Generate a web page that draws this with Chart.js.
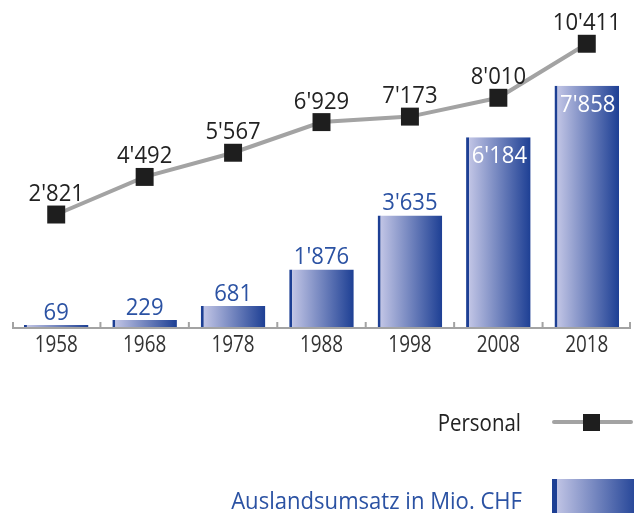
<!DOCTYPE html>
<html>
<head>
<meta charset="utf-8">
<script src="https://cdn.jsdelivr.net/npm/chart.js@4"></script>
<style>
  html, body { margin: 0; padding: 0; background: #fff; }
  #wrap { width: 634px; height: 513px; }
</style>
</head>
<body>
<div id="wrap"><canvas id="myChart" width="634" height="513"></canvas></div>
<script>
// data
var years = ["1958", "1968", "1978", "1988", "1998", "2008", "2018"];
var umsatz = [69, 229, 681, 1876, 3635, 6184, 7858];      // Auslandsumsatz in Mio. CHF
var personal = [2821, 4492, 5567, 6929, 7173, 8010, 10411];
var labelInside = [false, false, false, false, false, true, true];

var FONT = "23px 'Open Sans', 'Noto Sans', sans-serif";
var BLUE_TXT = "#2b52a3";
var DARK = "#1d3f94";
var LIGHT = "#c9cbe9";
var GRAY = "#a3a3a3";
var BAR_PCT = 0.73;

function fmt(v) {
  return String(v).replace(/\B(?=(\d{3})+(?!\d))/g, "'");
}

function barGradient(ctx, x0, x1) {
  var g = ctx.createLinearGradient(x0, 0, x1, 0);
  g.addColorStop(0, LIGHT);
  g.addColorStop(1, DARK);
  return g;
}

// text is a bit condensed in the original, squeeze it horizontally
function txt(ctx, s, x, y, align, sx) {
  ctx.save();
  ctx.translate(x, y);
  ctx.scale(sx, 1);
  ctx.textAlign = align;
  ctx.textBaseline = "alphabetic";
  ctx.fillText(s, 0, 0);
  ctx.restore();
}

var decor = {
  id: 'decor',
  beforeDatasetsDraw: function(chart) {
    var ctx = chart.ctx, xs = chart.scales.x, y = chart.chartArea.bottom + 1;
    ctx.save();
    ctx.strokeStyle = GRAY;
    ctx.lineWidth = 2;
    ctx.beginPath();
    ctx.moveTo(xs.left, y);
    ctx.lineTo(xs.right, y);
    var n = years.length;
    for (var i = 0; i <= n; i++) {
      var x = xs.left + i * xs.width / n;
      if (i === 0) x += 1;
      if (i === n) x -= 1;
      ctx.moveTo(x, y);
      ctx.lineTo(x, y - 6);
    }
    ctx.stroke();

    // category labels
    ctx.font = FONT;
    ctx.fillStyle = "#333";
    years.forEach(function(lab, i) {
      txt(ctx, lab, xs.getPixelForValue(i), y + 24, "center", 0.82);
    });
    ctx.restore();
  },
  afterDatasetsDraw: function(chart) {
    var ctx = chart.ctx;
    ctx.save();
    ctx.font = FONT;
    chart.getDatasetMeta(1).data.forEach(function(el, i) {
      if (labelInside[i]) {
        ctx.fillStyle = "#ffffff";
        txt(ctx, fmt(umsatz[i]), el.x + 1, el.y + 26, "center", 0.96);
      } else {
        ctx.fillStyle = BLUE_TXT;
        txt(ctx, fmt(umsatz[i]), el.x, el.y - 5, "center", 0.96);
      }
    });
    ctx.fillStyle = "#222";
    chart.getDatasetMeta(0).data.forEach(function(el, i) {
      txt(ctx, fmt(personal[i]), el.x, el.y - 13.5, "center", 0.96);
    });

    // legend
    ctx.fillStyle = "#222";
    txt(ctx, "Personal", 521, 431, "right", 0.89);
    ctx.fillStyle = BLUE_TXT;
    txt(ctx, "Auslandsumsatz in Mio. CHF", 522, 509, "right", 0.96);

    ctx.strokeStyle = GRAY;
    ctx.lineWidth = 4;
    ctx.lineCap = "round";
    ctx.beginPath();
    ctx.moveTo(554, 422);
    ctx.lineTo(631, 422);
    ctx.stroke();
    ctx.fillStyle = "#1e1e1e";
    ctx.fillRect(583, 414, 17, 17);

    ctx.fillStyle = barGradient(ctx, 552, 640);
    ctx.fillRect(552, 479, 82, 34);
    ctx.fillStyle = DARK;
    ctx.fillRect(552, 479, 5, 34);
    ctx.restore();
  }
};

var ctx = document.getElementById("myChart");

var myChart = new Chart(ctx, {
  data: {
    labels: years,
    datasets: [{
      type: 'line',
      label: 'Personal',
      data: personal,
      yAxisID: 'y2',
      order: 0,
      borderColor: GRAY,
      borderWidth: 4,
      tension: 0,
      clip: false,
      pointStyle: 'rect',
      pointRadius: 12.7,
      pointBorderWidth: 0,
      pointBackgroundColor: "#1e1e1e",
      pointBorderColor: "#1e1e1e"
    }, {
      type: 'bar',
      label: 'Auslandsumsatz in Mio. CHF',
      data: umsatz,
      yAxisID: 'y',
      order: 1,
      barPercentage: BAR_PCT,
      categoryPercentage: 1,
      borderSkipped: false,
      borderWidth: { left: 3, top: 0, right: 0, bottom: 0 },
      borderColor: DARK,
      backgroundColor: function(c) {
        var ch = c.chart, xs = ch.scales.x;
        if (c.dataIndex === undefined || !xs || !ch.chartArea) return DARK;
        var cx = xs.getPixelForValue(c.dataIndex);
        var w = xs.width / years.length * BAR_PCT;
        return barGradient(ch.ctx, cx - w / 2, cx + w / 2);
      }
    }]
  },
  options: {
    responsive: false,
    animation: false,
    layout: { autoPadding: false, padding: { left: 12, right: 3, top: 0, bottom: 0 } },
    plugins: {
      legend: { display: false },
      tooltip: { enabled: false }
    },
    scales: {
      x: {
        offset: true,
        grid: { display: false, drawTicks: false },
        border: { display: false },
        ticks: { display: false },
        afterFit: function(scale) { scale.height = 186; }
      },
      y: { display: false, min: 0, max: 10650 },
      y2: { display: false, min: -2178, max: 12356 }
    }
  },
  plugins: [decor]
});
</script>
</body>
</html>
